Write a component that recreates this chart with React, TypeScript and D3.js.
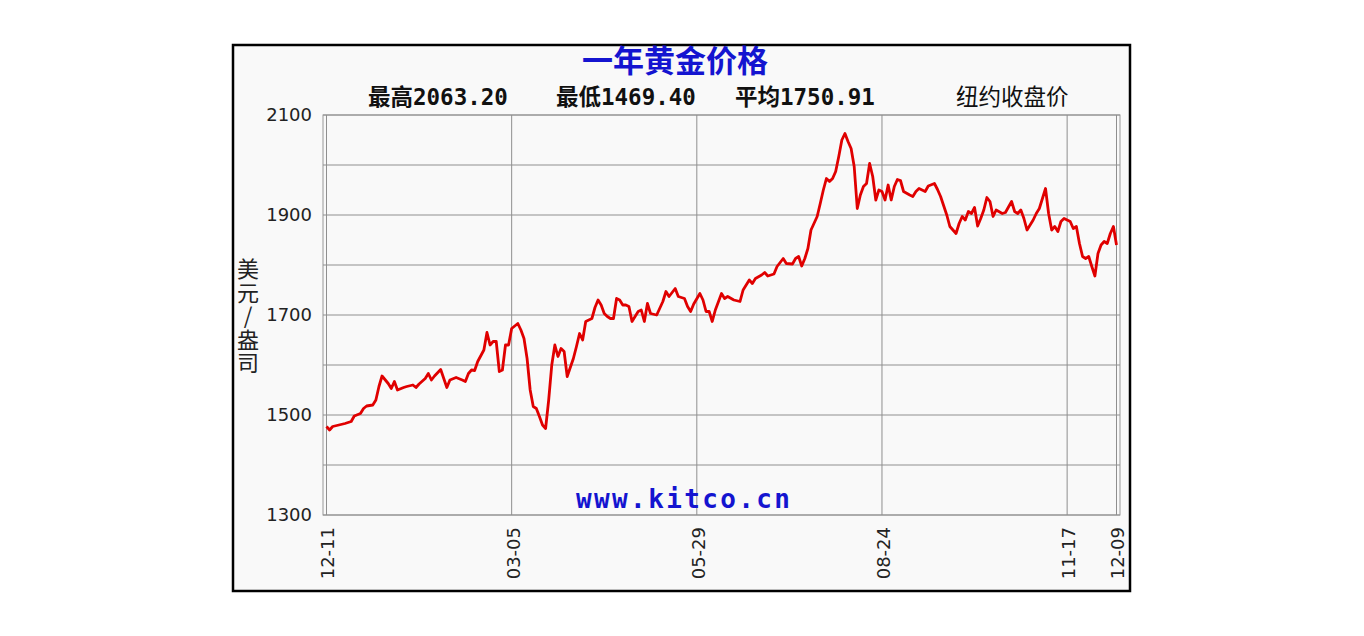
import { useEffect, useRef } from "react";
import * as d3 from "d3";

// trading-day index (0 = 12-11) and NY close
const days = [
  0, 1, 2, 4, 6, 8, 9, 11, 12, 13, 15, 16, 17, 18, 20, 21, 22, 23, 25, 26, 28, 29, 30, 32, 33, 34, 35, 37, 38, 39,
  40, 42, 44, 45, 46, 47, 48, 49, 51, 52, 53, 54, 55, 56, 57, 58, 59, 60, 62, 63, 64, 65, 66, 67, 68, 69, 70, 71,
  72, 73, 74, 75, 76, 77, 78, 80, 81, 82, 83, 84, 86, 87, 88, 89, 90, 91, 92, 93, 94, 95, 96, 97, 98, 99, 101, 102,
  103, 104, 105, 107, 109, 110, 111, 113, 114, 116, 117, 118, 119, 121, 122, 123, 124, 125, 126, 128, 129, 130, 132,
  134, 135, 137, 138, 139, 141, 142, 143, 145, 146, 148, 149, 151, 152, 153, 154, 155, 156, 157, 159, 160, 161, 162,
  163, 164, 165, 166, 167, 168, 169, 170, 171, 172, 173, 174, 175, 176, 177, 178, 179, 180, 181, 182, 183, 184, 185,
  186, 187, 189, 190, 191, 192, 194, 195, 197, 198, 199, 201, 202, 204, 205, 206, 207, 208, 209, 210, 211, 212, 213,
  214, 215, 216, 217, 219, 220, 222, 223, 224, 225, 226, 227, 229, 230, 231, 232, 233, 234, 235, 236, 237, 238, 239,
  241, 242, 243, 244, 245, 246, 247, 248, 249, 250, 251, 252, 253, 254, 255, 256,
];
const prices = [
  1477, 1470, 1477, 1480, 1483, 1487, 1498, 1503, 1513, 1518, 1520, 1530, 1557, 1578, 1563, 1553, 1567, 1550, 1555,
  1557, 1560, 1555, 1562, 1573, 1583, 1570, 1578, 1591, 1573, 1555, 1570, 1575, 1570, 1567, 1583, 1590, 1589, 1607,
  1630, 1665, 1640, 1647, 1647, 1587, 1590, 1640, 1640, 1673, 1683, 1670, 1653, 1613, 1550, 1517, 1513, 1497, 1480,
  1473, 1530, 1600, 1640, 1617, 1633, 1627, 1577, 1613, 1637, 1663, 1650, 1687, 1693, 1715, 1730, 1720, 1703, 1697,
  1693, 1693, 1733, 1730, 1720, 1720, 1717, 1687, 1707, 1710, 1687, 1723, 1703, 1700, 1727, 1747, 1737, 1753, 1737,
  1733, 1717, 1707, 1722, 1743, 1730, 1707, 1707, 1687, 1710, 1743, 1733, 1737, 1730, 1727, 1750, 1770, 1763, 1773,
  1780, 1785, 1778, 1782, 1797, 1813, 1803, 1802, 1813, 1817, 1798, 1813, 1833, 1870, 1897, 1923, 1950, 1973, 1967,
  1973, 1987, 2017, 2050, 2063, 2047, 2033, 1997, 1913, 1940, 1957, 1963, 2003, 1977, 1930, 1950, 1947, 1930, 1960,
  1930, 1957, 1971, 1969, 1947, 1940, 1937, 1947, 1953, 1947, 1958, 1963, 1951, 1937, 1900, 1877, 1863, 1883, 1897,
  1890, 1907, 1903, 1915, 1878, 1893, 1910, 1935, 1927, 1897, 1910, 1903, 1905, 1927, 1907, 1903, 1910, 1893, 1870,
  1890, 1903, 1913, 1933, 1953, 1903, 1870, 1877, 1867, 1887, 1893, 1887, 1873, 1877, 1843, 1817, 1813, 1817, 1797,
  1778, 1823, 1840, 1847, 1843, 1863, 1877, 1840,
];

const tickDays = [0, 60, 120, 180, 240, 256];
const tickLabels = ["12-11", "03-05", "05-29", "08-24", "11-17", "12-09"];
const gridValues = [1300, 1400, 1500, 1600, 1700, 1800, 1900, 2000, 2100];
const labelValues = [1300, 1500, 1700, 1900, 2100];

const title = "一年黄金价格";
const statNames = ["最高", "最低", "平均"];
const statValues = ["2063.20", "1469.40", "1750.91"];
const note = "纽约收盘价";
const unit = "美元/盎司";
const site = "www.kitco.cn";

const CJK = "'Noto Sans CJK SC', sans-serif";
const MONO = "'DejaVu Sans Mono', monospace";

const App = () => {
  const ref = useRef<SVGSVGElement>(null);

  useEffect(() => {
    const svg = d3.select(ref.current);
    svg.selectAll("*").remove();

    const left = 323;
    const right = 1120;
    const top = 115;
    const bottom = 515;

    const x = d3.scaleLinear().domain([0, 256]).range([326.5, 1116.5]);
    const y = d3.scaleLinear().domain([1300, 2100]).range([bottom, top]);

    // outer frame
    svg
      .append("rect")
      .attr("x", 233)
      .attr("y", 45)
      .attr("width", 897)
      .attr("height", 546)
      .attr("fill", "#f9f9f9")
      .attr("stroke", "#000")
      .attr("stroke-width", 2.5);

    // plot box
    svg
      .append("rect")
      .attr("x", left)
      .attr("y", top)
      .attr("width", right - left)
      .attr("height", bottom - top)
      .attr("fill", "#f9f9f9")
      .attr("stroke", "#9a9a9a")
      .attr("stroke-width", 1);

    svg
      .append("g")
      .selectAll("line")
      .data(gridValues)
      .join("line")
      .attr("x1", left)
      .attr("x2", right)
      .attr("y1", (d) => y(d))
      .attr("y2", (d) => y(d))
      .attr("stroke", "#8f8f8f")
      .attr("stroke-width", 1);

    svg
      .append("g")
      .selectAll("line")
      .data(tickDays)
      .join("line")
      .attr("x1", (d) => x(d))
      .attr("x2", (d) => x(d))
      .attr("y1", top)
      .attr("y2", bottom)
      .attr("stroke", "#8f8f8f")
      .attr("stroke-width", 1);

    // y labels
    svg
      .append("g")
      .selectAll("text")
      .data(labelValues)
      .join("text")
      .attr("x", 312)
      .attr("y", (d) => y(d))
      .attr("dy", "0.36em")
      .attr("text-anchor", "end")
      .attr("font-family", "'DejaVu Sans', sans-serif")
      .attr("font-size", 18)
      .attr("fill", "#222")
      .text((d) => d);

    // x labels, rotated
    svg
      .append("g")
      .selectAll("text")
      .data(tickDays)
      .join("text")
      .attr("transform", (d) => `translate(${x(d) + 1.5},527) rotate(-90)`)
      .attr("dy", "0.36em")
      .attr("text-anchor", "end")
      .attr("font-family", "'DejaVu Sans', sans-serif")
      .attr("font-size", 18)
      .attr("fill", "#222")
      .text((d, i) => tickLabels[i]);

    // unit label, written top to bottom
    svg
      .append("text")
      .attr("x", 248)
      .attr("y", 258)
      .attr("font-family", CJK)
      .attr("font-size", 22)
      .attr("letter-spacing", 1.5)
      .attr("fill", "#222")
      .style("writing-mode", "vertical-rl")
      .style("text-orientation", "upright")
      .text(unit);

    // title
    svg
      .append("text")
      .attr("x", 675)
      .attr("y", 72)
      .attr("text-anchor", "middle")
      .attr("font-family", CJK)
      .attr("font-weight", "bold")
      .attr("font-size", 31)
      .attr("fill", "#1414d0")
      .text(title);

    // stats row
    const statX = [368, 556, 735];
    statNames.forEach((name, i) => {
      const t = svg
        .append("text")
        .attr("x", statX[i])
        .attr("y", 105)
        .attr("font-size", 22.5)
        .attr("font-weight", "bold")
        .attr("fill", "#111");
      t.append("tspan").attr("font-family", CJK).text(name);
      t.append("tspan").attr("font-family", MONO).text(statValues[i]);
    });

    svg
      .append("text")
      .attr("x", 956)
      .attr("y", 105)
      .attr("font-family", CJK)
      .attr("font-size", 22.5)
      .attr("fill", "#111")
      .text(note);

    // watermark
    svg
      .append("text")
      .attr("x", 576)
      .attr("y", 508)
      .attr("font-family", MONO)
      .attr("font-weight", "bold")
      .attr("font-size", 26)
      .attr("textLength", 214)
      .attr("lengthAdjust", "spacing")
      .attr("fill", "#1414d0")
      .text(site);

    const line = d3
      .line<number>()
      .x((d) => x(d))
      .y((d, i) => y(prices[i]));

    svg
      .append("path")
      .datum(days)
      .attr("fill", "none")
      .attr("stroke", "#e00000")
      .attr("stroke-width", 2.8)
      .attr("stroke-linejoin", "round")
      .attr("d", line);

    return () => {
      if (ref.current) {
        ref.current.innerHTML = "";
      }
    };
  }, []);

  return (
    <svg
      ref={ref}
      width={1364}
      height={636}
      style={{ position: "absolute", left: 0, top: 0, background: "#fff" }}
    />
  );
};

export default App;
